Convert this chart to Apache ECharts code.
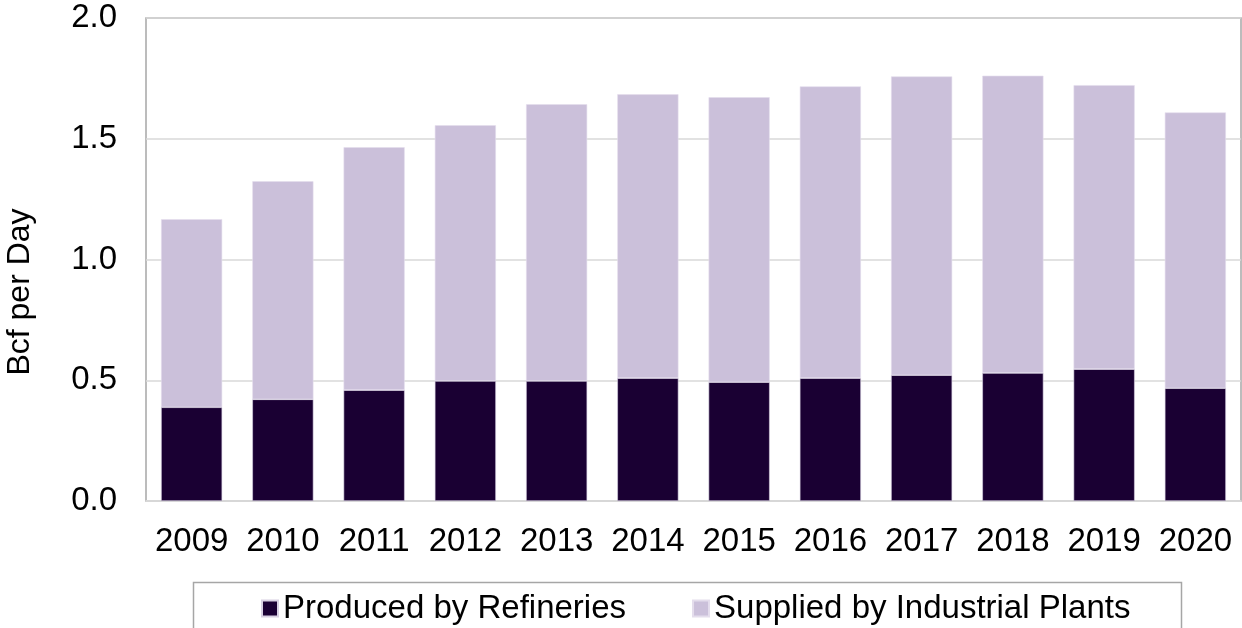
<!DOCTYPE html>
<html>
<head>
<meta charset="utf-8">
<script src="https://cdn.jsdelivr.net/npm/echarts@6/dist/echarts.min.js"></script>
<style>
  html, body { margin: 0; padding: 0; background: #fff; }
  #main { width: 1242px; height: 628px; }
</style>
</head>
<body>
<div id="main"></div>
<script>
// data (Bcf per day)
const years = ['2009', '2010', '2011', '2012', '2013', '2014', '2015', '2016', '2017', '2018', '2019', '2020'];
const refineries = [0.388, 0.421, 0.459, 0.497, 0.497, 0.509, 0.492, 0.509, 0.521, 0.530, 0.546, 0.467];
const industrial = [0.779, 0.903, 1.006, 1.059, 1.146, 1.175, 1.180, 1.208, 1.237, 1.231, 1.176, 1.142];
const seriesNames = ['Produced by Refineries', 'Supplied by Industrial Plants'];

const font = 'Liberation Sans, Arial, sans-serif';
const chart = echarts.init(document.getElementById('main'));

const option = {
  animation: false,
  textStyle: { fontFamily: font },
  grid: {
    left: 146, top: 18, right: 1, bottom: 127,
    show: true, borderColor: '#a6a6a6', borderWidth: 1.5, backgroundColor: 'transparent'
  },
  legend: {
    left: 256, top: 587,
    itemWidth: 16, itemHeight: 16, itemGap: 66,
    icon: 'rect',
    textStyle: { fontSize: 33, color: '#000', fontFamily: font },
    data: seriesNames
  },
  graphic: [
    {
      type: 'rect', left: 191, top: 580,
      shape: { width: 988, height: 60 },
      style: { fill: 'none', stroke: '#a6a6a6', lineWidth: 1.5 }
    },
    {
      type: 'text', x: 20, y: 292, rotation: Math.PI / 2,
      style: {
        text: 'Bcf per Day', fontSize: 32, fontFamily: font, fill: '#000',
        align: 'center', verticalAlign: 'middle'
      }
    }
  ],
  xAxis: {
    type: 'category',
    data: years,
    axisTick: { show: false },
    axisLine: { lineStyle: { color: '#d9d9d9', width: 1.5 } },
    axisLabel: { fontSize: 33, color: '#000', margin: 24, interval: 0 }
  },
  yAxis: {
    type: 'value',
    min: 0, max: 2, interval: 0.5,
    axisLabel: {
      fontSize: 33, color: '#000', margin: 29,
      formatter: v => v.toFixed(1)
    },
    axisLine: { show: false },
    axisTick: { show: false },
    splitLine: { lineStyle: { color: '#d9d9d9', width: 1.5 } }
  },
  series: [
    {
      name: seriesNames[0], type: 'bar', stack: 'total',
      data: refineries, barCategoryGap: '33%',
      itemStyle: { color: '#1a0033', borderColor: '#d8d0e2', borderWidth: 0.6 }
    },
    {
      name: seriesNames[1], type: 'bar', stack: 'total',
      data: industrial, barCategoryGap: '33%',
      itemStyle: { color: '#cbc0da', borderColor: '#e4ddec', borderWidth: 0.6 }
    }
  ]
};

chart.setOption(option);
</script>
</body>
</html>
